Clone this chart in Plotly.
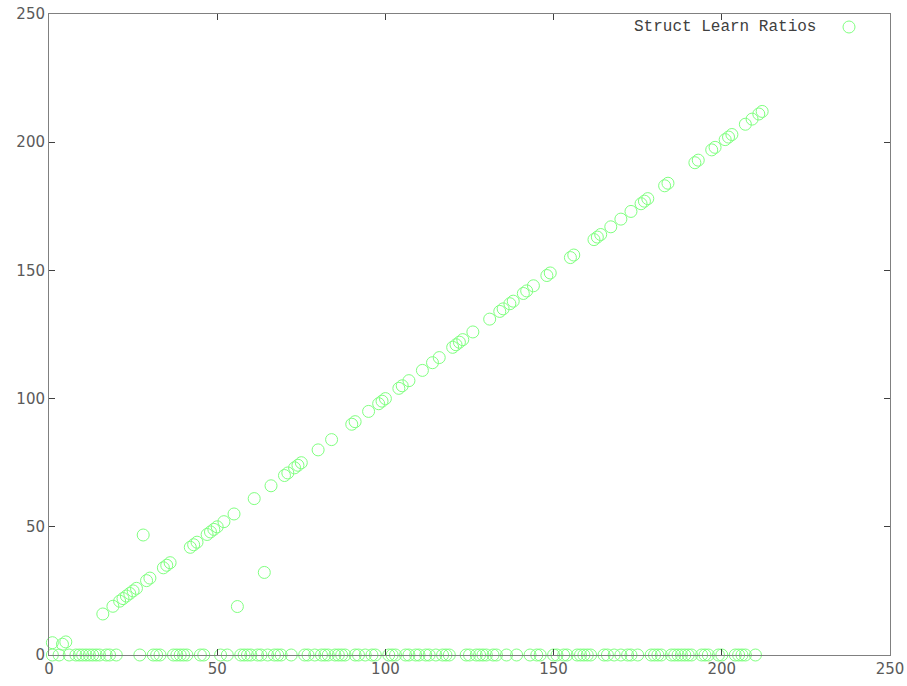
import plotly.graph_objects as go

# Points that lie on (or near) the diagonal
diag_x = [16, 19, 21, 22, 23, 24, 25, 26, 29, 30, 34, 35, 36, 42, 43, 44, 47, 48, 49, 50,
          52, 55, 61, 66, 70, 71, 73, 74, 75, 80, 84, 90, 91, 95, 98, 99, 100, 104, 105,
          107, 111, 114, 116, 120, 121, 122, 123, 126, 131, 134, 135, 137, 138, 141, 142,
          144, 148, 149, 155, 156, 162, 163, 164, 167, 170, 173, 176, 177, 178, 183, 184,
          192, 193, 197, 198, 201, 202, 203, 207, 209, 211, 212]
diag_y = [16, 19, 21, 22, 23, 24, 25, 26, 29, 30, 34, 35, 36, 42, 43, 44, 47, 48, 49, 50,
          52, 55, 61, 66, 70, 71, 73, 74, 75, 80, 84, 90, 91, 95, 98, 99, 100, 104, 105,
          107, 111, 114, 116, 120, 121, 122, 123, 126, 131, 134, 135, 137, 138, 141, 142,
          144, 148, 149, 155, 156, 162, 163, 164, 167, 170, 173, 176, 177, 178, 183, 184,
          192, 193, 197, 198, 201, 202, 203, 207, 209, 211, 212]

# Other off-diagonal points
other_x = [1, 4, 5, 28, 56, 64]
other_y = [4.8, 4.2, 5.1, 46.8, 18.9, 32.2]

# Points at zero
zero_x = [1, 3, 6, 8, 9, 10, 11, 12, 13, 14, 15, 17, 18, 20, 27, 31, 32, 33, 37, 38, 39,
          40, 41, 45, 46, 51, 53, 57, 58, 59, 60, 62, 63, 65, 67, 68, 69, 72,
          76, 77, 79, 81, 82, 83, 85, 86, 87, 88, 91, 92, 94, 96, 97, 101, 102, 103, 106,
          107, 109, 110, 112, 113, 115, 117, 118, 119, 124, 125, 127, 128, 129, 130, 132,
          133, 136, 139, 143, 145, 146, 150, 151, 153, 154, 157, 158, 159, 160, 161,
          165, 166, 168, 170, 172, 173, 175, 179, 180, 181, 182, 185, 186, 187, 188, 189,
          190, 191, 194, 195, 196, 199, 200, 204, 205, 206, 207, 210]
zero_y = [0] * len(zero_x)

series_name = "Struct Learn Ratios"
x_ticks = [0, 50, 100, 150, 200, 250]
y_ticks = [0, 50, 100, 150, 200, 250]

all_x = diag_x + other_x + zero_x
all_y = diag_y + other_y + zero_y

green = "#80ff80"
axis_gray = "#808080"
text_gray = "#5a5a5a"

fig = go.Figure()
fig.add_trace(go.Scatter(
    x=all_x, y=all_y, mode="markers", name=series_name,
    marker=dict(symbol="circle-open", size=12, color=green, line=dict(width=1, color=green)),
    cliponaxis=False, showlegend=False, hoverinfo="skip",
))

W, H = 907, 686
plot_left, plot_right, plot_top, plot_bottom = 49, 890, 14, 655  # page pixels
L, R, T, B = plot_left, W - plot_right, plot_top, H - plot_bottom
pw, ph = W - L - R, H - T - B

def px2paper_x(px):
    return (px - L) / pw

def px2paper_y(py):
    return (plot_bottom - py) / ph

axis_common = dict(
    range=[0, 250], showgrid=False, zeroline=False, showline=True, mirror="ticks",
    linecolor=axis_gray, linewidth=1, ticks="inside", ticklen=6, tickcolor="#404040",
    tickwidth=1, tickfont=dict(family="DejaVu Sans", size=15, color=text_gray),
    automargin=False, ticklabeloverflow="allow",
)

fig.update_layout(
    width=W, height=H,
    margin=dict(l=L, r=R, t=T, b=B, pad=0, autoexpand=False),
    paper_bgcolor="white", plot_bgcolor="white",
    xaxis=dict(tickvals=x_ticks, ticktext=[str(v) for v in x_ticks], **axis_common),
    yaxis=dict(tickvals=y_ticks, ticktext=[str(v) for v in y_ticks], **axis_common),
    showlegend=False,
)

fig.add_annotation(
    x=px2paper_x(818), y=px2paper_y(27), xref="paper", yref="paper",
    text=series_name, showarrow=False, xanchor="right", yanchor="middle",
    font=dict(family="Liberation Mono", size=16, color="#404040"),
)
fig.add_shape(
    type="circle", xref="paper", yref="paper",
    x0=px2paper_x(843), x1=px2paper_x(855), y0=px2paper_y(33), y1=px2paper_y(21),
    line=dict(color=green, width=1),
)

fig.write_html(
    "out.html",
    config={"displayModeBar": False, "staticPlot": True},
    post_script="document.body.style.margin='0';document.body.style.overflow='hidden';",
)
